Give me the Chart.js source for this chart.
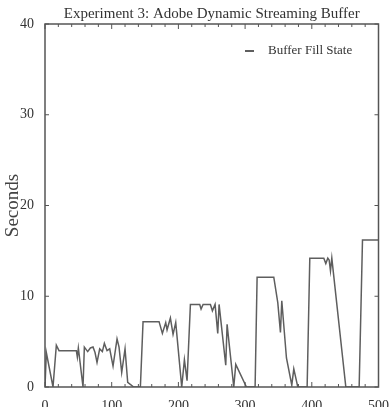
<!DOCTYPE html>
<html>
<head>
<meta charset="utf-8">
<script src="https://cdn.jsdelivr.net/npm/chart.js@4.4.1/dist/chart.umd.min.js"></script>
<style>
  body { margin: 0; background: #fff; }
  canvas { display: block; }
</style>
</head>
<body>
<canvas id="bufferChart" width="392" height="407"></canvas>
<script>
// Time (s) and buffer level (s)
const timeSec = [0, 2, 12, 17, 21, 47, 48.5, 50, 57, 59, 64, 68, 72, 75, 78, 82, 86, 89, 93, 97, 102, 108, 111, 115, 120, 124, 133,
  143, 147, 171, 176, 181, 183, 188, 192, 196, 205, 209, 213, 218, 232, 234, 237, 248, 251, 255, 259, 261, 271, 273, 283, 286, 302,
  315, 318, 343, 349, 353, 355, 362, 370, 373, 379, 393, 397, 418, 421, 424, 426, 428, 430, 451, 471, 476, 500];
const bufferSec = [0, 3.8, 0, 4.6, 4.0, 4.0, 3.3, 4.3, 0, 4.4, 3.9, 4.3, 4.4, 3.8, 2.7, 4.2, 3.9, 4.8, 4.0, 4.2, 2.3, 5.3, 4.4, 1.6, 4.2, 0.5, 0,
  0, 7.2, 7.2, 5.9, 7.1, 6.3, 7.6, 5.8, 7.1, 0, 3.0, 0.7, 9.1, 9.1, 8.6, 9.1, 9.1, 8.4, 9.1, 5.9, 9.1, 2.4, 6.9, 0, 2.5, 0,
  0, 12.1, 12.1, 9.3, 6.0, 9.5, 3.2, 0.2, 2.0, 0, 0, 14.2, 14.2, 13.6, 14.2, 14.0, 12.8, 14.2, 0, 0, 16.2, 16.2];
const xTicks = [0, 100, 200, 300, 400, 500];
const yTicks = [0, 10, 20, 30, 40];

const points = timeSec.map((t, i) => ({ x: t, y: bufferSec[i] }));

// box around the plot with inward tick marks, plus the in-plot legend
const framePlugin = {
  id: 'frame',
  afterDraw(chart) {
    const ctx = chart.ctx;
    const a = chart.chartArea;
    const xs = chart.scales.x, ys = chart.scales.y;
    ctx.save();
    ctx.strokeStyle = '#555';
    ctx.lineWidth = 1.5;
    ctx.strokeRect(a.left, a.top, a.right - a.left, a.bottom - a.top);
    ctx.lineWidth = 1;
    for (let v = 0; v <= 500; v += 20) {
      const px = xs.getPixelForValue(v);
      const len = xTicks.includes(v) ? 5 : 3;
      ctx.beginPath();
      ctx.moveTo(px, a.bottom); ctx.lineTo(px, a.bottom - len);
      ctx.moveTo(px, a.top); ctx.lineTo(px, a.top + len);
      ctx.stroke();
    }
    yTicks.forEach(v => {
      const py = ys.getPixelForValue(v);
      ctx.beginPath();
      ctx.moveTo(a.left, py); ctx.lineTo(a.left + 4, py);
      ctx.moveTo(a.right, py); ctx.lineTo(a.right - 4, py);
      ctx.stroke();
    });
    // legend
    const ds = chart.data.datasets[0];
    ctx.strokeStyle = ds.borderColor;
    ctx.lineWidth = 2;
    ctx.beginPath();
    ctx.moveTo(245, 51); ctx.lineTo(254, 51);
    ctx.stroke();
    ctx.fillStyle = '#333';
    ctx.font = '13px "Liberation Serif", serif';
    ctx.textBaseline = 'middle';
    ctx.fillText(ds.label, 268, 51);
    ctx.restore();
  }
};

new Chart(document.getElementById('bufferChart'), {
  type: 'line',
  data: {
    datasets: [{
      label: 'Buffer Fill State',
      data: points,
      borderColor: '#5e5e5e',
      borderWidth: 1.5,
      pointRadius: 0,
      tension: 0,
      fill: false
    }]
  },
  options: {
    responsive: false,
    animation: false,
    devicePixelRatio: 1,
    layout: { padding: { left: 0, right: 10, top: 0, bottom: 0 } },
    plugins: {
      legend: { display: false },
      tooltip: { enabled: false },
      title: {
        display: true,
        fullSize: false,
        text: 'Experiment 3: Adobe Dynamic Streaming Buffer',
        color: '#333',
        font: { family: '"Liberation Serif", serif', size: 15, weight: 'normal' },
        padding: { top: 5, bottom: 1 }
      }
    },
    scales: {
      x: {
        type: 'linear',
        min: 0,
        max: 500,
        grid: { display: false },
        border: { display: false },
        ticks: {
          stepSize: 100,
          maxRotation: 0,
          padding: 3,
          color: '#333',
          font: { family: '"Liberation Serif", serif', size: 14 }
        },
        afterFit: s => { s.height = 20; }
      },
      y: {
        min: 0,
        max: 40,
        grid: { display: false },
        border: { display: false },
        ticks: {
          stepSize: 10,
          padding: 3,
          color: '#333',
          font: { family: '"Liberation Serif", serif', size: 14 }
        },
        title: {
          display: true,
          text: 'Seconds',
          color: '#444',
          font: { family: '"Liberation Serif", serif', size: 19 },
          padding: { top: 2, bottom: 0 }
        },
        afterFit: s => { s.width = 45; }
      }
    }
  },
  plugins: [framePlugin]
});
</script>
</body>
</html>
